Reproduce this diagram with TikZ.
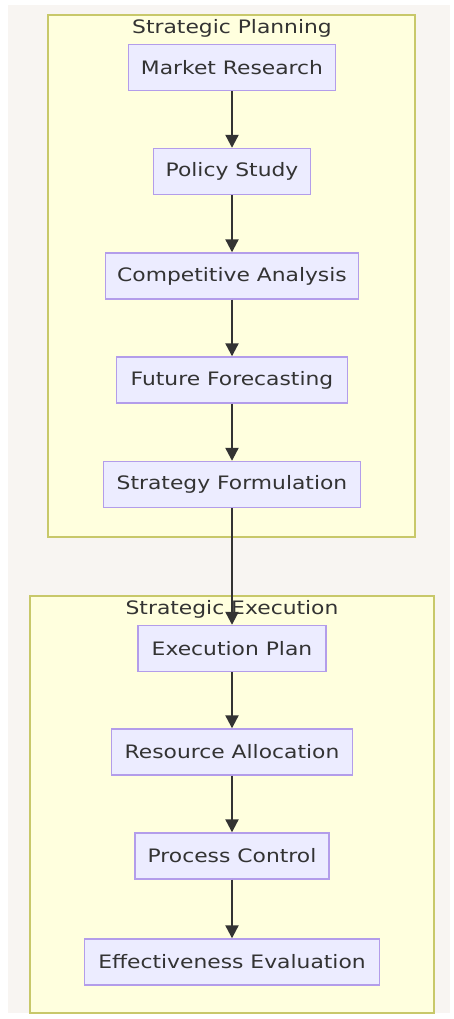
\documentclass[tikz,border=0pt]{standalone}
\usepackage{fontspec}
\setmainfont{DejaVu Sans}[FakeStretch=1.18]
\usetikzlibrary{arrows.meta}
\definecolor{canvas}{HTML}{F8F5F2}
\definecolor{clusterfill}{HTML}{FFFFDE}
\definecolor{clusterline}{HTML}{C8C86A}
\definecolor{boxfill}{HTML}{ECECFF}
\definecolor{boxline}{HTML}{B39DEA}
\definecolor{ink}{HTML}{333333}
\tikzset{
  stepbox/.style={draw=boxline, fill=boxfill, line width=1.4pt, text=ink,
    font=\fontsize{18.5}{20}\selectfont, inner sep=0pt, minimum height=46pt},
  cluster/.style={draw=clusterline, fill=clusterfill, line width=1.3pt},
  clustertitle/.style={text=ink, font=\fontsize{18.5}{20}\selectfont, inner sep=0pt},
  flow/.style={draw=ink, line width=2.2pt, -{Triangle[length=13pt,width=13pt]}}
}
\begin{document}
\begin{tikzpicture}[x=1pt,y=-1pt]
  \useasboundingbox (0,0) rectangle (453,1019);
  \fill[white] (0,0) rectangle (453,1019);
  \fill[canvas] (8,5) rectangle (450,1013);

  % groups
  \draw[cluster] (48,15) rectangle (415,537);
  \node[clustertitle] (tplan) at (232,28) {Strategic Planning};
  \draw[cluster] (30,596) rectangle (434,1013);
  \node[clustertitle] (texec) at (232,609) {Strategic Execution};

  % steps, all on one vertical axis
  \node[stepbox, minimum width=207pt] (mr) at (232,67.5) {Market Research};
  \node[stepbox, minimum width=157pt] (ps) at (232,171.5) {Policy Study};
  \node[stepbox, minimum width=253pt] (ca) at (232,276) {Competitive Analysis};
  \node[stepbox, minimum width=231pt] (ff) at (232,380) {Future Forecasting};
  \node[stepbox, minimum width=257pt] (sf) at (232,484.5) {Strategy Formulation};
  \node[stepbox, minimum width=188pt] (ep) at (232,648.5) {Execution Plan};
  \node[stepbox, minimum width=241pt] (ra) at (232,752) {Resource Allocation};
  \node[stepbox, minimum width=194pt] (pc) at (232,856) {Process Control};
  \node[stepbox, minimum width=295pt] (ee) at (232,962) {Effectiveness Evaluation};

  % connectors
  \draw[flow] (mr) -- (ps);
  \draw[flow] (ps) -- (ca);
  \draw[flow] (ca) -- (ff);
  \draw[flow] (ff) -- (sf);
  \draw[flow] (sf) -- (ep);
  \draw[flow] (ep) -- (ra);
  \draw[flow] (ra) -- (pc);
  \draw[flow] (pc) -- (ee);
\end{tikzpicture}
\end{document}
